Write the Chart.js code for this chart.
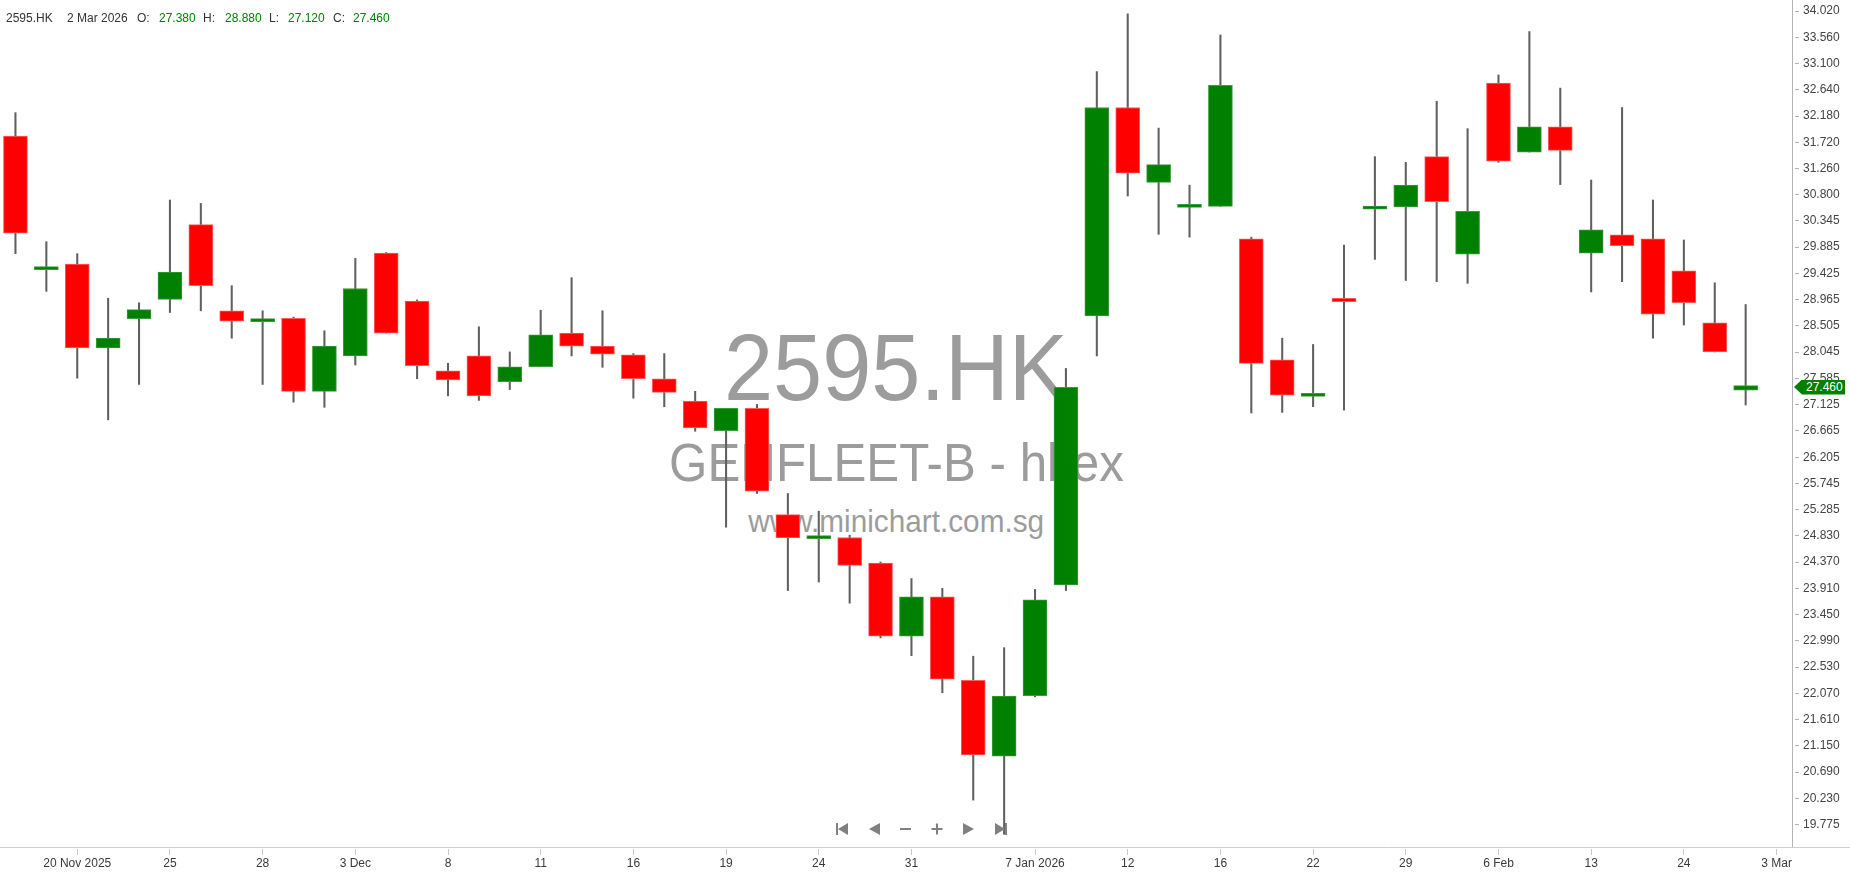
<!DOCTYPE html>
<html>
<head>
<meta charset="utf-8">
<title>2595.HK - GENFLEET-B</title>
<script src="https://cdn.jsdelivr.net/npm/chart.js@4.4.1/dist/chart.umd.min.js"></script>
<style>
  html, body { margin: 0; padding: 0; background: #fff; }
  body { width: 1850px; height: 874px; overflow: hidden; position: relative; font-family: 'Liberation Sans', Arial, sans-serif; }
  .wm { position: absolute; left: 0; width: 1792px; text-align: center; color: #9c9c9c; white-space: nowrap; }
  .wm span { display: inline-block; transform: scaleX(0.93); }
  #wrap { position: absolute; left: 0; top: 0; width: 1850px; height: 874px; }
  .hd { position: absolute; top: 12px; line-height: 12px; font-size: 12px; color: #333; white-space: nowrap; }
  .hd.v { color: #008000; }
  #nav { position: absolute; left: 830px; top: 820px; }
  #tag { position: absolute; left: 1794px; top: 379px; width: 51px; height: 15px; background: #008000; color: #fff;
         font-size: 12px; line-height: 15px; padding-left: 12px; box-sizing: border-box;
         clip-path: polygon(0 50%, 8px 0, 100% 0, 100% 100%, 8px 100%); }
</style>
</head>
<body>
<div class="wm" style="top:320px;font-size:95px;line-height:95px;"><span>2595.HK</span></div>
<div class="wm" style="top:436px;font-size:53px;line-height:53px;"><span>GENFLEET-B - hkex</span></div>
<div class="wm" style="top:505px;font-size:32px;line-height:32px;"><span>www.minichart.com.sg</span></div>

<div id="wrap"><canvas id="chart"></canvas></div>

<div class="hd" style="left:6px">2595.HK</div>
<div class="hd" style="left:67px">2 Mar 2026</div>
<div class="hd" style="left:137px">O:</div>
<div class="hd v" style="left:159px">27.380</div>
<div class="hd" style="left:203px">H:</div>
<div class="hd v" style="left:225px">28.880</div>
<div class="hd" style="left:269px">L:</div>
<div class="hd v" style="left:288px">27.120</div>
<div class="hd" style="left:333px">C:</div>
<div class="hd v" style="left:353px">27.460</div>

<svg id="nav" width="185" height="18" viewBox="0 0 185 18">
  <g fill="#808080">
    <rect x="6" y="3" width="2" height="12"/>
    <polygon points="18,3 18,15 8,9"/>
    <polygon points="50,3 50,15 39,9"/>
    <rect x="70" y="8" width="11" height="2"/>
    <rect x="101.5" y="8" width="11" height="2"/>
    <rect x="106" y="3.5" width="2" height="11"/>
    <polygon points="133,3 133,15 144,9"/>
    <polygon points="165,3 165,15 175,9"/>
    <rect x="175" y="3" width="2" height="12"/>
  </g>
</svg>

<div id="tag">27.460</div>

<script>
// trading days; the last slot is the next session (3 Mar), no data
const dates = [
  '2025-11-18', '2025-11-19', '2025-11-20', '2025-11-21', '2025-11-24', '2025-11-25', '2025-11-26', '2025-11-27', '2025-11-28', '2025-12-01',
  '2025-12-02', '2025-12-03', '2025-12-04', '2025-12-05', '2025-12-08', '2025-12-09', '2025-12-10', '2025-12-11', '2025-12-12', '2025-12-15',
  '2025-12-16', '2025-12-17', '2025-12-18', '2025-12-19', '2025-12-22', '2025-12-23', '2025-12-24', '2025-12-29', '2025-12-30', '2025-12-31',
  '2026-01-02', '2026-01-05', '2026-01-06', '2026-01-07', '2026-01-08', '2026-01-09', '2026-01-12', '2026-01-13', '2026-01-14', '2026-01-16',
  '2026-01-19', '2026-01-20', '2026-01-22', '2026-01-23', '2026-01-27', '2026-01-29', '2026-02-02', '2026-02-04', '2026-02-06', '2026-02-09',
  '2026-02-11', '2026-02-13', '2026-02-16', '2026-02-20', '2026-02-24', '2026-02-27', '2026-03-02', '2026-03-03'
];

const opens = [
  31.83, 29.49, 29.59, 28.12, 28.63, 28.97, 30.28, 28.77, 28.58, 28.64,
  27.36, 27.98, 29.78, 28.94, 27.72, 27.98, 27.53, 27.79, 28.38, 28.15,
  28.00, 27.58, 27.19, 26.67, 27.06, 25.20, 24.78, 24.80, 24.35, 23.07,
  23.76, 22.30, 20.97, 22.03, 23.97, 28.68, 32.33, 31.02, 30.58, 30.60,
  30.03, 27.91, 27.27, 28.99, 30.55, 30.59, 31.47, 29.76, 32.76, 31.55,
  31.99, 29.78, 30.10, 30.03, 29.47, 28.56, 27.38
];
const highs = [
  32.24, 29.98, 29.77, 28.99, 28.91, 30.71, 30.65, 29.21, 28.77, 28.66,
  28.42, 29.69, 29.79, 28.96, 27.85, 28.49, 28.05, 28.78, 29.35, 28.77,
  28.02, 28.02, 27.36, 27.06, 27.13, 25.57, 25.26, 24.84, 24.37, 24.08,
  23.91, 22.72, 22.87, 23.89, 27.76, 32.96, 33.97, 31.97, 30.97, 33.60,
  30.06, 28.29, 28.18, 29.92, 31.47, 31.37, 32.44, 31.96, 32.90, 33.66,
  32.67, 31.06, 32.33, 30.71, 30.01, 29.26, 28.88
];
const lows = [
  29.77, 29.11, 27.59, 26.86, 27.48, 28.74, 28.77, 28.29, 27.48, 27.17,
  27.08, 27.82, 28.38, 27.58, 27.28, 27.20, 27.39, 27.79, 27.98, 27.78,
  27.24, 27.09, 26.66, 24.98, 25.57, 23.87, 24.02, 23.65, 23.04, 22.73,
  22.08, 20.20, 19.60, 22.01, 23.87, 27.98, 30.78, 30.11, 30.06, 30.60,
  26.98, 26.99, 27.09, 27.03, 29.67, 29.30, 29.28, 29.25, 31.37, 31.55,
  30.98, 29.10, 29.28, 28.29, 28.52, 28.05, 27.12
];
const closes = [
  30.13, 29.52, 28.12, 28.29, 28.79, 29.45, 29.21, 28.59, 28.62, 27.36,
  28.15, 29.16, 28.38, 27.81, 27.56, 27.28, 27.79, 28.35, 28.15, 28.01,
  27.58, 27.34, 26.72, 27.06, 25.61, 24.79, 24.80, 24.31, 23.07, 23.76,
  22.32, 20.99, 22.02, 23.71, 27.43, 32.33, 31.18, 31.33, 30.60, 32.72,
  27.85, 27.29, 27.29, 28.93, 30.57, 30.97, 30.68, 30.51, 31.39, 31.99,
  31.58, 30.19, 29.91, 28.71, 28.91, 28.05, 27.46
];

// x axis labels only on these slots
const xTickIndex = [2, 5, 8, 11, 14, 17, 20, 23, 26, 29, 33, 36, 39, 42, 45, 48, 51, 54, 57];
const xTickText = ['20 Nov 2025', '25', '28', '3 Dec', '8', '11', '16', '19', '24', '31',
                   '7 Jan 2026', '12', '16', '22', '29', '6 Feb', '13', '24', '3 Mar'];

const yTickText = ['34.020', '33.560', '33.100', '32.640', '32.180', '31.720', '31.260', '30.800', '30.345', '29.885',
                   '29.425', '28.965', '28.505', '28.045', '27.585', '27.125', '26.665', '26.205', '25.745', '25.285',
                   '24.830', '24.370', '23.910', '23.450', '22.990', '22.530', '22.070', '21.610', '21.150', '20.690',
                   '20.230', '19.775'];
const yMin = 19.379;
const yMax = 34.213;

const UP = '#008000';
const DOWN = '#ff0000';

const bodyData = opens.map((o, i) => [o, closes[i]]);
const wickData = lows.map((l, i) => [l, highs[i]]);
const bodyColors = opens.map((o, i) => closes[i] >= o ? UP : DOWN);
const bodyBorders = opens.map((o, i) => closes[i] >= o ? '#3d9a3d' : '#ff5c5c');

Chart.defaults.font.family = "'Liberation Sans', Arial, sans-serif";
Chart.defaults.font.size = 12;

// keep the plot area flush with the canvas edges
function noPad(s) {
  s.paddingTop = 0;
  s.paddingBottom = 0;
  s.paddingLeft = 0;
  s.paddingRight = 0;
}

const frame = {
  id: 'frame',
  afterDraw(chart) {
    const { ctx, chartArea } = chart;
    const y = Math.round(chartArea.bottom) + 0.5;
    ctx.save();
    ctx.strokeStyle = '#cfcfcf';
    ctx.lineWidth = 1;
    ctx.beginPath();
    ctx.moveTo(0, y);
    ctx.lineTo(chart.width, y);
    ctx.stroke();
    ctx.restore();
    const tag = document.getElementById('tag');
    const py = chart.scales.y.getPixelForValue(closes[closes.length - 1]);
    tag.style.top = (py - 6) + 'px';
  }
};

new Chart(document.getElementById('chart'), {
  type: 'bar',
  data: {
    labels: dates,
    datasets: [
      {
        label: 'range',
        data: wickData,
        backgroundColor: '#606060',
        barThickness: 1.4,
        grouped: false,
        order: 2
      },
      {
        label: 'body',
        data: bodyData,
        backgroundColor: bodyColors,
        borderColor: bodyBorders,
        borderWidth: 1,
        borderSkipped: false,
        barThickness: 24,
        minBarLength: 3,
        grouped: false,
        order: 1
      }
    ]
  },
  options: {
    responsive: true,
    maintainAspectRatio: false,
    animation: false,
    events: [],
    layout: { padding: 0 },
    plugins: { legend: { display: false }, tooltip: { enabled: false } },
    scales: {
      x: {
        offset: true,
        border: { display: false },
        grid: {
          offset: false,
          drawOnChartArea: false,
          drawTicks: true,
          tickLength: 8,
          tickBorderDash: [6, 2],
          tickBorderDashOffset: 6,
          tickColor: ctx => xTickIndex.includes(ctx.index) ? '#c8c8c8' : 'rgba(0,0,0,0)'
        },
        ticks: {
          autoSkip: false,
          maxRotation: 0,
          minRotation: 0,
          padding: 1,
          color: '#3a3a3a',
          callback: (val, i) => {
            const k = xTickIndex.indexOf(i);
            return k >= 0 ? xTickText[k] : '';
          }
        },
        afterFit: s => { s.height = 27; noPad(s); }
      },
      y: {
        position: 'right',
        min: yMin,
        max: yMax,
        border: { display: true, color: '#b4b4b4', width: 1 },
        grid: {
          drawOnChartArea: false,
          drawTicks: true,
          tickLength: 7,
          tickBorderDash: [5, 2],
          tickBorderDashOffset: 5,
          tickColor: '#b4b4b4'
        },
        ticks: {
          padding: 4,
          color: '#444',
          callback: (val, i) => yTickText[i]
        },
        afterBuildTicks: s => { s.ticks = yTickText.map(t => ({ value: parseFloat(t) })); },
        afterFit: s => { s.width = 58; noPad(s); }
      }
    }
  },
  plugins: [frame]
});
</script>
</body>
</html>
